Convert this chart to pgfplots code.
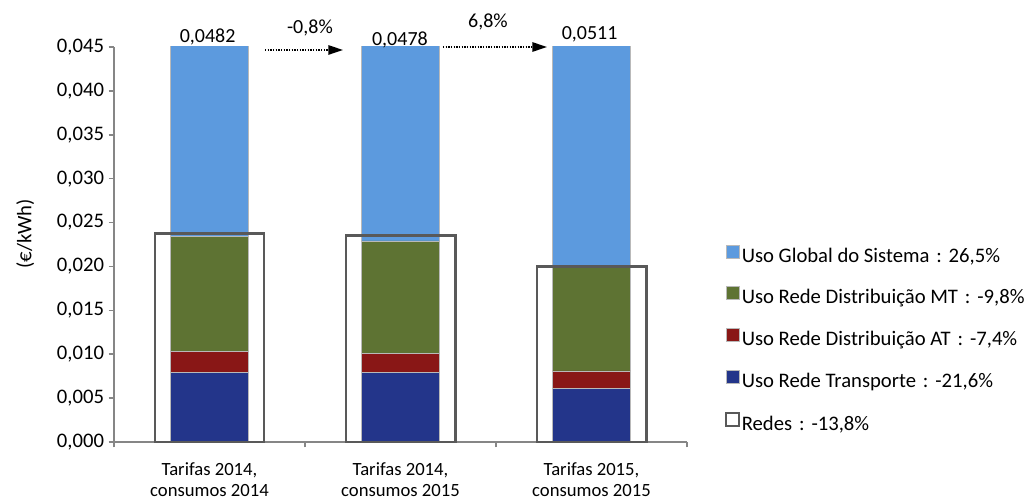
\documentclass[border=0pt]{standalone}
\usepackage{fontspec}
\setmainfont{Carlito}
\usepackage{pgfplots}
\usepackage{pgfplotstable}
\pgfplotsset{compat=1.18}
\usetikzlibrary{arrows.meta}

\definecolor{globalblue}{RGB}{92,154,222}
\definecolor{mtgreen}{RGB}{94,115,51}
\definecolor{atred}{RGB}{137,23,22}
\definecolor{tblue}{RGB}{35,53,138}
\definecolor{boxgray}{RGB}{89,89,89}
\definecolor{axisgray}{RGB}{134,134,134}
\definecolor{edgegray}{RGB}{185,185,185}

% segment heights (EUR/kWh)
\pgfplotstableread{
x trans at mt global redes
0 0.0079 0.0024 0.0131 0.0248 0.0238
1 0.0079 0.0022 0.0128 0.0249 0.0235
2 0.0061 0.0020 0.0119 0.0311 0.0200
}\tarifas

\newcommand\tickfont{\fontsize{15.5}{18}\selectfont}
\newcommand\catfont{\fontsize{14}{16}\selectfont}
\newcommand\lblfont{\fontsize{15}{18}\selectfont}
\newcommand\legfont{\fontsize{15.5}{18}\selectfont}

\pgfplotsset{
  base/.style={
    scale only axis, width=429.75pt, height=296.25pt,
    at={(0,0)}, anchor=south west,
    xmin=-0.5, xmax=2.5, ymin=0, ymax=0.045,
  },
  seg/.style={fill=#1, draw=edgegray, line width=0.6pt},
}

\begin{document}
\begin{tikzpicture}
\begin{axis}[base,
  ybar stacked, bar width=0.408,
  axis lines*=left,
  axis line style={draw=axisgray, line width=1.1pt},
  tick style={draw=axisgray, line width=1.1pt},
  tick align=outside, major tick length=4pt,
  ytick={0,0.005,0.01,0.015,0.02,0.025,0.03,0.035,0.04,0.045},
  scaled y ticks=false,
  y tick label style={/pgf/number format/.cd, fixed, fixed zerofill, precision=3,
    use comma, assume math mode=true, /tikz/.cd, font=\tickfont},
  xtick={-0.5,0.5,1.5,2.5}, xticklabels={},
  extra x ticks={0,1,2},
  extra x tick labels={{Tarifas 2014,\\consumos 2014},{Tarifas 2014,\\consumos 2015},{Tarifas 2015,\\consumos 2015}},
  extra x tick style={major tick length=0pt,
    tick label style={align=center, font=\catfont, yshift=-12pt}},
]
\addplot[seg=tblue] table[x=x, y=trans] {\tarifas};
\addplot[seg=atred] table[x=x, y=at] {\tarifas};
\addplot[seg=mtgreen] table[x=x, y=mt] {\tarifas};
\addplot[seg=globalblue] table[x=x, y=global] {\tarifas};
\end{axis}

\begin{axis}[base, hide axis, clip=false,
  legend image code/.code={\draw[#1] (0pt,-0.5pt) rectangle (9.75pt,9.25pt);},
  legend cell align=left,
  legend style={draw=none, fill=none, inner sep=0pt, outer sep=0pt,
    at={(axis description cs:1.066,0.50)}, anchor=north west,
    font=\legfont, row sep=14.2pt, column sep=1pt,
    nodes={inner sep=0pt, text height=11pt, text depth=4pt}},
]
\addplot[ybar, bar width=0.571, bar shift=0pt, draw=boxgray, fill=none,
  line width=2.2pt, forget plot] table[x=x, y=redes] {\tarifas};

\addlegendimage{fill=globalblue, draw=edgegray, line width=0.8pt}
\addlegendentry{Uso Global do Sistema\,\,:\,\,26,5\%}
\addlegendimage{fill=mtgreen, draw=edgegray, line width=0.8pt}
\addlegendentry{Uso Rede Distribuição MT\,\,:\,\,-9,8\%}
\addlegendimage{fill=atred, draw=edgegray, line width=0.8pt}
\addlegendentry{Uso Rede Distribuição AT\,\,:\,\,-7,4\%}
\addlegendimage{fill=tblue, draw=edgegray, line width=0.8pt}
\addlegendentry{Uso Rede Transporte\,\,:\,\,-21,6\%}
\addlegendimage{fill=white, draw=boxgray, line width=2pt}
\addlegendentry{Redes\,\,:\,\,-13,8\%}

\node[font=\lblfont] at (axis cs:-0.01,0.0461) {0,0482};
\node[font=\lblfont] at (axis cs:0.997,0.0458) {0,0478};
\node[font=\lblfont] at (axis cs:1.99,0.0464) {0,0511};
\node[font=\lblfont] at (axis cs:0.526,0.0472) {-0,8\%};
\node[font=\lblfont] at (axis cs:1.458,0.0479) {6,8\%};
\draw[line width=1.3pt, dash pattern=on 1pt off 1pt,
  -{Triangle[length=11pt, width=7pt]}] (axis cs:0.291,0.04466) -- (axis cs:0.699,0.04466);
\draw[line width=1.3pt, dash pattern=on 1pt off 1pt,
  -{Triangle[length=11pt, width=7pt]}] (axis cs:1.222,0.0450) -- (axis cs:1.767,0.0450);

\node[rotate=90, font=\tickfont] at (axis description cs:-0.155,0.527) {(€/kWh)};
\end{axis}
\pgfresetboundingbox
\useasboundingbox (-85.5pt,-45.75pt) rectangle (684.75pt,331.5pt);
\end{tikzpicture}
\end{document}
